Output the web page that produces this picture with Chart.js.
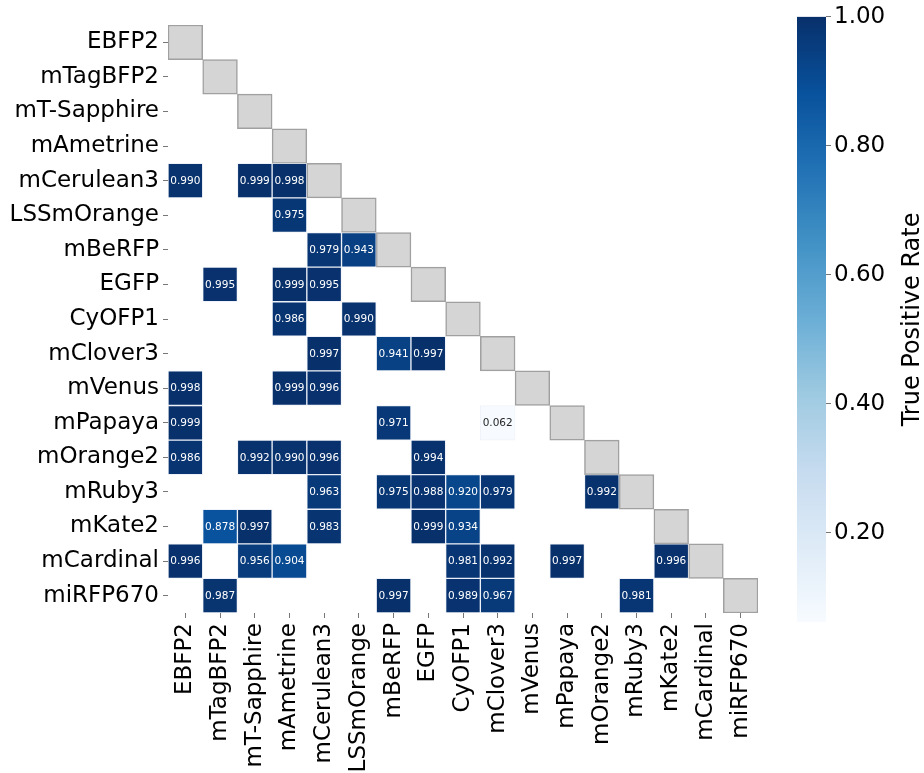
<!DOCTYPE html>
<html>
<head>
<meta charset="utf-8">
<script src="https://cdn.jsdelivr.net/npm/chart.js@4/dist/chart.umd.min.js"></script>
<style>
  body { margin: 0; background: #fff; }
  #wrap { position: relative; width: 924px; height: 773px; overflow: hidden; }
  #wrap canvas { position: absolute; left: 0; top: 0; }
</style>
</head>
<body>
<div id="wrap">
  <canvas id="heatChart" width="924" height="773"></canvas>
  <canvas id="barChart" width="924" height="773"></canvas>
</div>
<script>
// proteins, same order on both axes
const proteins = ['EBFP2', 'mTagBFP2', 'mT-Sapphire', 'mAmetrine', 'mCerulean3', 'LSSmOrange',
  'mBeRFP', 'EGFP', 'CyOFP1', 'mClover3', 'mVenus', 'mPapaya', 'mOrange2', 'mRuby3',
  'mKate2', 'mCardinal', 'miRFP670'];

// non-empty cells: row index, column index, true positive rate
const cellRows = [4, 4, 4, 5, 6, 6, 7, 7, 7, 8, 8, 9, 9, 9, 10, 10, 10, 11, 11, 11,
  12, 12, 12, 12, 12, 13, 13, 13, 13, 13, 13, 14, 14, 14, 14, 14,
  15, 15, 15, 15, 15, 15, 15, 16, 16, 16, 16, 16];
const cellCols = [0, 2, 3, 3, 4, 5, 1, 3, 4, 3, 5, 4, 6, 7, 0, 3, 4, 0, 6, 9,
  0, 2, 3, 4, 7, 4, 6, 7, 8, 9, 12, 1, 2, 4, 7, 8,
  0, 2, 3, 8, 9, 11, 14, 1, 6, 8, 9, 13];
const cellValues = [0.990, 0.999, 0.998, 0.975, 0.979, 0.943, 0.995, 0.999, 0.995, 0.986, 0.990,
  0.997, 0.941, 0.997, 0.998, 0.999, 0.996, 0.999, 0.971, 0.062,
  0.986, 0.992, 0.990, 0.996, 0.994, 0.963, 0.975, 0.988, 0.920, 0.979, 0.992,
  0.878, 0.997, 0.983, 0.999, 0.934,
  0.996, 0.956, 0.904, 0.981, 0.992, 0.997, 0.996,
  0.987, 0.997, 0.989, 0.967, 0.981];

const colorbarTicks = [0.2, 0.4, 0.6, 0.8, 1.0];
const colorbarLabel = 'True Positive Rate';

// matplotlib "Blues"
const blues = ['#f7fbff', '#deebf7', '#c6dbef', '#9ecae1', '#6baed6', '#4292c6', '#2171b5', '#08519c', '#08306b'];

const vmin = Math.min(...cellValues);
const vmax = 1.0;

Chart.defaults.font.family = '"DejaVu Sans", sans-serif';
Chart.defaults.color = '#000';

function hexToRgb(h) {
  return [parseInt(h.slice(1, 3), 16), parseInt(h.slice(3, 5), 16), parseInt(h.slice(5, 7), 16)];
}

function bluesAt(t) {
  t = Math.max(0, Math.min(1, t));
  const pos = t * (blues.length - 1);
  const i = Math.min(Math.floor(pos), blues.length - 2);
  const f = pos - i;
  const a = hexToRgb(blues[i]);
  const b = hexToRgb(blues[i + 1]);
  return a.map((v, k) => Math.round(v + (b[k] - v) * f));
}

function cellColor(v) {
  const c = bluesAt((v - vmin) / (vmax - vmin));
  return `rgb(${c[0]}, ${c[1]}, ${c[2]})`;
}

function textColor(v) {
  const c = bluesAt((v - vmin) / (vmax - vmin));
  const lum = (0.2126 * c[0] + 0.7152 * c[1] + 0.0722 * c[2]) / 255;
  return lum < 0.45 ? '#ffffff' : '#262626';
}

const heatData = cellValues.map((v, i) => ({
  x: proteins[cellCols[i]],
  y: [cellRows[i] - 0.5, cellRows[i] + 0.5],
  v: v
}));

const diagData = proteins.map((p, i) => ({ x: p, y: [i - 0.5, i + 0.5] }));

// writes the value in each cell
const cellLabels = {
  id: 'cellLabels',
  afterDatasetsDraw(chart) {
    const meta = chart.getDatasetMeta(0);
    const ctx = chart.ctx;
    ctx.save();
    ctx.font = '10.5px "DejaVu Sans"';
    ctx.textAlign = 'center';
    ctx.textBaseline = 'middle';
    meta.data.forEach((bar, i) => {
      const v = heatData[i].v;
      ctx.fillStyle = textColor(v);
      ctx.fillText(v.toFixed(3), bar.x, (bar.y + bar.base) / 2 + 0.5);
    });
    ctx.restore();
  }
};

new Chart(document.getElementById('heatChart'), {
  type: 'bar',
  data: {
    labels: proteins,
    datasets: [{
      data: heatData,
      backgroundColor: (c) => c.raw ? cellColor(c.raw.v) : 'transparent',
      borderColor: 'rgba(220, 228, 242, 0.45)',
      borderWidth: 1,
      borderSkipped: false,
      barPercentage: 1,
      categoryPercentage: 1,
      grouped: false
    }, {
      data: diagData,
      backgroundColor: '#d5d5d5',
      borderColor: '#a0a0a0',
      borderWidth: 1.5,
      borderSkipped: false,
      barPercentage: 1,
      categoryPercentage: 1,
      grouped: false
    }]
  },
  options: {
    responsive: false,
    animation: false,
    layout: { padding: { left: 0, top: 25, right: 166, bottom: 0 } },
    plugins: {
      legend: { display: false },
      tooltip: { enabled: false }
    },
    scales: {
      x: {
        type: 'category',
        offset: true,
        border: { display: false },
        grid: { drawOnChartArea: false, offset: false, tickLength: 5, tickColor: '#777', tickWidth: 1 },
        ticks: { font: { size: 23 }, color: '#000', minRotation: 90, maxRotation: 90, autoSkip: false, padding: 5 },
        afterFit(scale) { scale.height = 160; }
      },
      y: {
        type: 'linear',
        reverse: true,
        min: -0.5,
        max: 16.5,
        border: { display: false },
        grid: { drawOnChartArea: false, tickLength: 5, tickColor: '#777', tickWidth: 1 },
        ticks: {
          font: { size: 23 },
          color: '#000',
          autoSkip: false,
          padding: 4,
          callback: (v) => proteins[v]
        },
        afterBuildTicks(scale) { scale.ticks = proteins.map((p, i) => ({ value: i })); },
        afterFit(scale) { scale.width = 168; }
      }
    }
  },
  plugins: [cellLabels]
});

// colour bar, its own little chart
const barTitle = {
  id: 'barTitle',
  afterDraw(chart) {
    const ctx = chart.ctx;
    const area = chart.chartArea;
    ctx.save();
    ctx.translate(913, (area.top + area.bottom) / 2);
    ctx.rotate(-Math.PI / 2);
    ctx.font = '24px "DejaVu Sans"';
    ctx.fillStyle = '#000';
    ctx.textAlign = 'center';
    ctx.textBaseline = 'middle';
    ctx.fillText(colorbarLabel, 0, 0);
    ctx.restore();
  }
};

new Chart(document.getElementById('barChart'), {
  type: 'bar',
  data: {
    labels: ['cb'],
    datasets: [{
      data: [{ x: 'cb', y: [vmin, vmax] }],
      backgroundColor: (c) => {
        const chart = c.chart;
        if (!chart.chartArea) return null;
        const ys = chart.scales.y;
        const g = chart.ctx.createLinearGradient(0, ys.getPixelForValue(vmin), 0, ys.getPixelForValue(vmax));
        blues.forEach((col, i) => g.addColorStop(i / (blues.length - 1), col));
        return g;
      },
      borderWidth: 0,
      barPercentage: 1,
      categoryPercentage: 1
    }]
  },
  options: {
    responsive: false,
    animation: false,
    layout: { padding: { left: 797, top: 15, right: 0, bottom: 151 } },
    plugins: {
      legend: { display: false },
      tooltip: { enabled: false }
    },
    scales: {
      x: { display: false },
      y: {
        type: 'linear',
        position: 'right',
        min: vmin,
        max: vmax,
        border: { display: false },
        grid: { drawOnChartArea: false, tickLength: 5, tickColor: '#777', tickWidth: 1 },
        ticks: { font: { size: 23 }, color: '#000', padding: 3, callback: (v) => v.toFixed(2) },
        afterBuildTicks(scale) { scale.ticks = colorbarTicks.map(v => ({ value: v })); },
        afterFit(scale) { scale.width = 98; }
      }
    }
  },
  plugins: [barTitle]
});
</script>
</body>
</html>
